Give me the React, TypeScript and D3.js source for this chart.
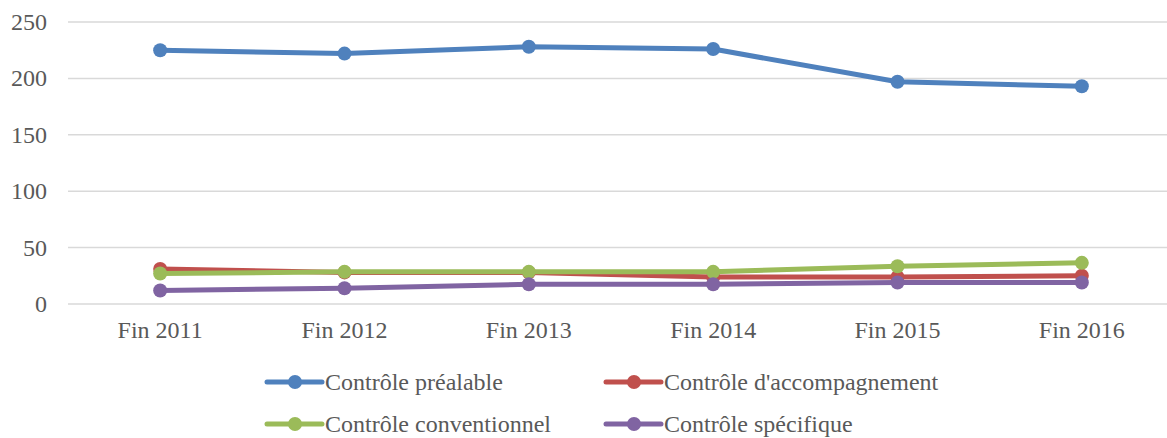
import React from "react";
import * as d3 from "d3";

// data
const categories = ["Fin 2011", "Fin 2012", "Fin 2013", "Fin 2014", "Fin 2015", "Fin 2016"];
const prealable = [225, 222, 228, 226, 197, 193];
const accompagnement = [31, 28, 28, 24, 24, 25];
const conventionnel = [27, 28.5, 28.5, 28.5, 33.5, 36.5];
const specifique = [12, 14, 17.5, 17.5, 19, 19];
const yTicks = [0, 50, 100, 150, 200, 250];

const seriesNames = [
  "Contrôle préalable",
  "Contrôle d'accompagnement",
  "Contrôle conventionnel",
  "Contrôle spécifique",
];
const seriesValues = [prealable, accompagnement, conventionnel, specifique];
const colors = ["#4F81BD", "#C0504D", "#9BBB59", "#8064A2"];

const W = 1167;
const H = 438;
const textStyle = { fontFamily: "Liberation Serif", fontSize: 24, fill: "#595959" };

export default function App() {
  const x = d3.scaleBand().domain(categories).range([68, 1174]);
  const y = d3.scaleLinear().domain([0, 250]).range([304, 22]);
  const cx = (c: string) => (x(c) as number) + x.bandwidth() / 2;
  const line = d3.line<number>()
    .x((_, i) => cx(categories[i]))
    .y((d) => y(d));

  const legendPos = [
    [267, 382],
    [606, 382],
    [267, 424],
    [606, 424],
  ];

  return (
    <svg width={W} height={H} style={{ position: "absolute", left: 0, top: 0, background: "#fff" }}>
      {/* gridlines */}
      {yTicks.map((t) => (
        <line key={t} x1={68} x2={W} y1={y(t)} y2={y(t)} stroke="#d9d9d9" strokeWidth={1.5} />
      ))}
      {/* y labels */}
      {yTicks.map((t) => (
        <text key={t} x={47} y={y(t) + 8} textAnchor="end" style={textStyle}>
          {t}
        </text>
      ))}
      {/* x labels */}
      {categories.map((c) => (
        <text key={c} x={cx(c)} y={338} textAnchor="middle" style={textStyle}>
          {c}
        </text>
      ))}
      {/* series */}
      {seriesValues.map((vals, s) => (
        <g key={s}>
          <path
            d={line(vals) || ""}
            fill="none"
            stroke={colors[s]}
            strokeWidth={5}
            strokeLinejoin="round"
            strokeLinecap="round"
          />
          {vals.map((v, i) => (
            <circle key={i} cx={cx(categories[i])} cy={y(v)} r={7} fill={colors[s]} />
          ))}
        </g>
      ))}
      {/* legend */}
      {seriesNames.map((name, s) => {
        const [lx, ly] = legendPos[s];
        return (
          <g key={name} transform={`translate(${lx},${ly})`}>
            <line x1={0} x2={55} stroke={colors[s]} strokeWidth={5} strokeLinecap="round" />
            <circle cx={28} r={7} fill={colors[s]} />
            <text x={58} y={8} style={textStyle}>
              {name}
            </text>
          </g>
        );
      })}
    </svg>
  );
}
